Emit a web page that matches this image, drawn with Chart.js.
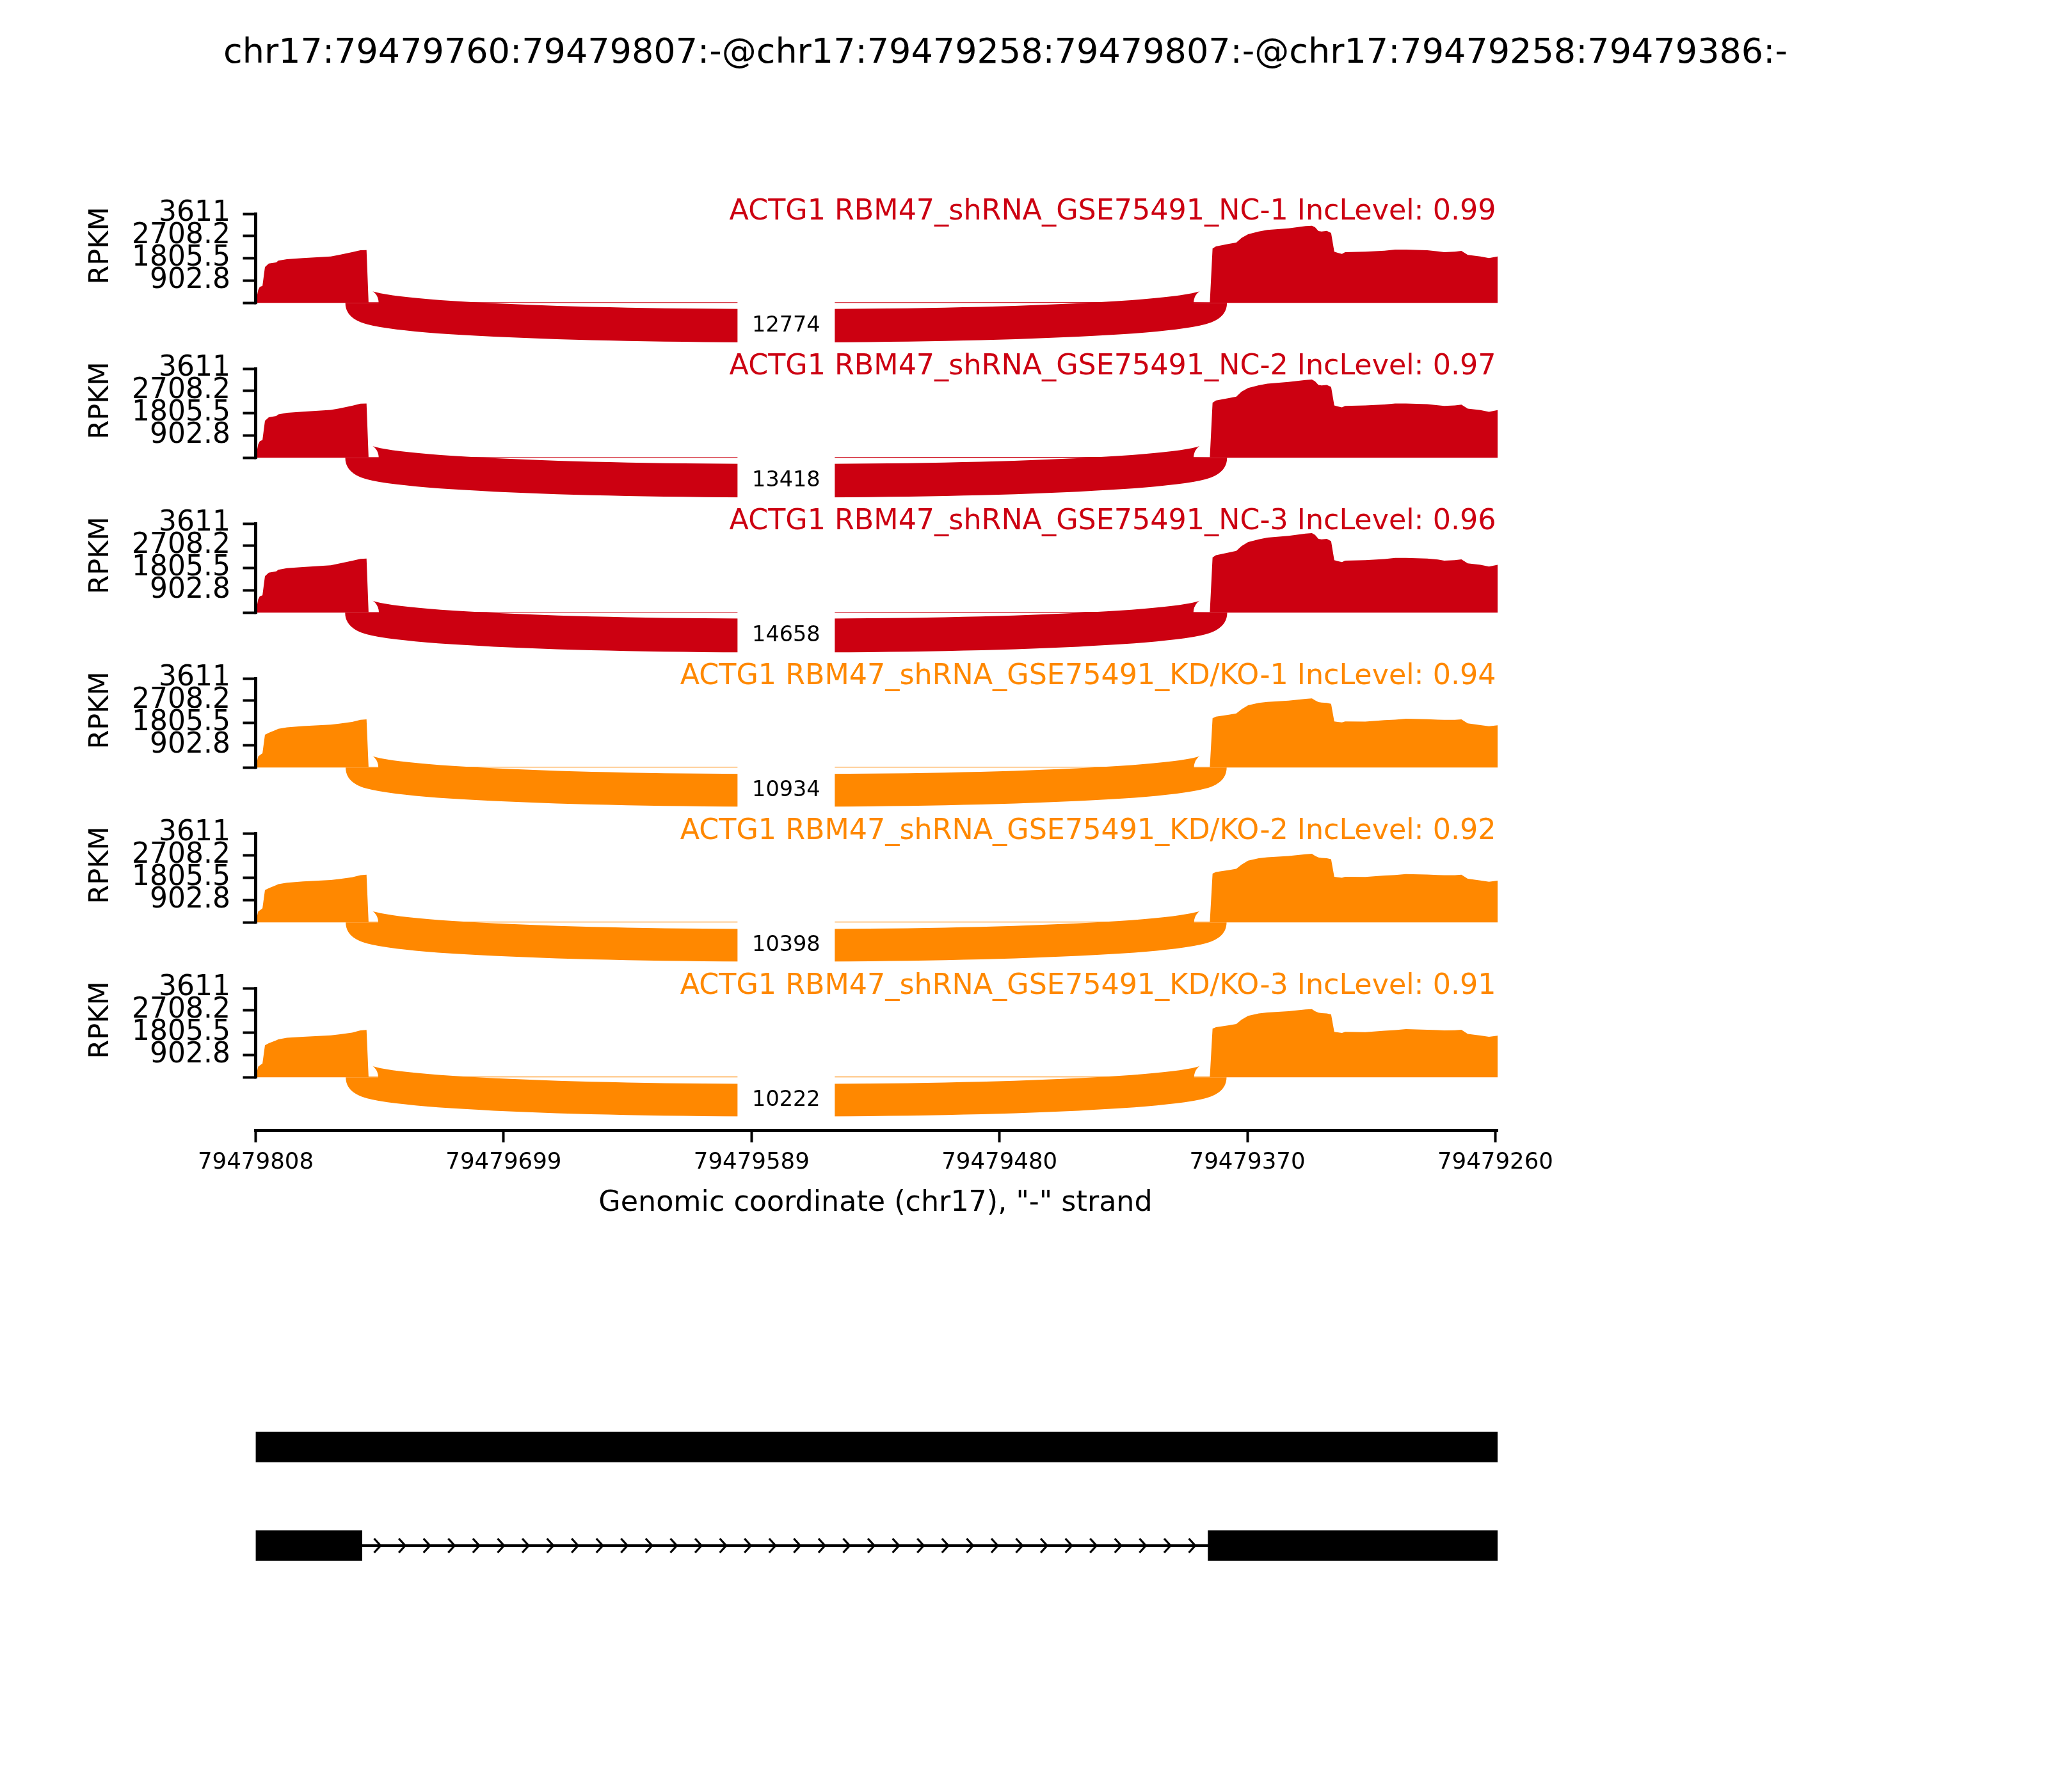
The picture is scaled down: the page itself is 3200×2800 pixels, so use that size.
<!DOCTYPE html>
<html>
<head>
<meta charset="utf-8">
<script src="https://cdn.jsdelivr.net/npm/chart.js@4.4.1/dist/chart.umd.min.js"></script>
<style>
  body { margin: 0; background: #fff; width: 3200px; height: 2800px; position: relative; overflow: hidden; }
  canvas { position: absolute; left: 0; }
</style>
</head>
<body>
<script>
const FONT = "'DejaVu Sans', sans-serif";

// ---- data ----
const plotTitle = 'chr17:79479760:79479807:-@chr17:79479258:79479807:-@chr17:79479258:79479386:-';
const sampleNames = ['RBM47_shRNA_GSE75491_NC-1', 'RBM47_shRNA_GSE75491_NC-2', 'RBM47_shRNA_GSE75491_NC-3',
                     'RBM47_shRNA_GSE75491_KD/KO-1', 'RBM47_shRNA_GSE75491_KD/KO-2', 'RBM47_shRNA_GSE75491_KD/KO-3'];
const incLevels = [0.99, 0.97, 0.96, 0.94, 0.92, 0.91];
const junctionCounts = [12774, 13418, 14658, 10934, 10398, 10222];
const junctionStart = 79479761;
const junctionEnd = 79479386;

const coveragePos = [
  79479808, 79479806.9, 79479806.2, 79479805.0, 79479803.9, 79479802.2, 79479798.9, 79479798.0,
  79479794.2, 79479787.1, 79479774.8, 79479771.1, 79479765.4, 79479761.7, 79479759.0, 79479758.1,
  79479700, 79479600, 79479500, 79479400, 79479386.2,
  79479385.0, 79479383.5, 79479377.8, 79479374.5, 79479372.2, 79479369.3, 79479364.6, 79479360.8,
  79479351.4, 79479343.9, 79479341.1, 79479339.7, 79479338.2, 79479336.8, 79479334.5, 79479332.6,
  79479331.2, 79479329.7, 79479327.8, 79479326.4, 79479317.5, 79479309.0, 79479304.3, 79479299.5,
  79479290.1, 79479285.4, 79479282.6, 79479277.9, 79479275.0, 79479272.2, 79479266.6, 79479262.8, 79479259.0
];
const covNC1 = [
  0, 518, 648, 690, 1451, 1597, 1641, 1711, 1770, 1814, 1882, 1944, 2055, 2133, 2141, 30,
  30, 28, 30, 32, 30,
  2203, 2289, 2392, 2444, 2634, 2781, 2893, 2954, 3023, 3110, 3126, 3066, 2911, 2893, 2919, 2833,
  2074, 2030, 1986, 2055, 2074, 2115, 2159, 2159, 2133, 2089, 2055, 2074, 2107, 1944, 1882, 1814, 1882
];
const covNC2 = [
  0, 540, 670, 720, 1500, 1640, 1690, 1760, 1820, 1870, 1940, 2000, 2110, 2190, 2200, 30,
  30, 30, 31, 32, 30,
  2230, 2320, 2420, 2480, 2680, 2830, 2940, 3000, 3070, 3150, 3170, 3100, 2950, 2930, 2950, 2870,
  2120, 2080, 2040, 2100, 2120, 2160, 2200, 2200, 2170, 2130, 2100, 2120, 2150, 1990, 1930, 1860, 1930
];
const covNC3 = [
  0, 530, 660, 700, 1480, 1620, 1670, 1740, 1800, 1850, 1920, 1990, 2100, 2180, 2190, 30,
  30, 30, 31, 32, 30,
  2240, 2330, 2440, 2500, 2700, 2860, 2970, 3040, 3110, 3200, 3220, 3150, 2990, 2970, 2990, 2900,
  2130, 2090, 2050, 2110, 2130, 2170, 2220, 2220, 2190, 2150, 2110, 2130, 2160, 2000, 1940, 1870, 1940
];
const covKD1 = [
  0, 450, 500, 580, 1330, 1410, 1530, 1570, 1630, 1680, 1740, 1780, 1850, 1930, 1950, 25,
  25, 24, 26, 27, 25,
  2000, 2060, 2140, 2190, 2360, 2520, 2620, 2660, 2710, 2780, 2800, 2720, 2650, 2630, 2620, 2580,
  1870, 1850, 1830, 1870, 1860, 1920, 1940, 1980, 1960, 1940, 1930, 1935, 1955, 1790, 1720, 1670, 1715
];
const covKD2 = [
  0, 440, 490, 570, 1310, 1390, 1510, 1550, 1610, 1660, 1720, 1760, 1830, 1910, 1930, 25,
  25, 24, 26, 27, 25,
  1980, 2040, 2120, 2170, 2340, 2500, 2600, 2640, 2690, 2760, 2780, 2700, 2630, 2610, 2600, 2560,
  1850, 1830, 1810, 1850, 1840, 1900, 1920, 1960, 1940, 1920, 1910, 1915, 1935, 1770, 1700, 1650, 1695
];
const covKD3 = [
  0, 430, 480, 560, 1300, 1382, 1500, 1537, 1600, 1641, 1700, 1740, 1810, 1900, 1918, 25,
  25, 24, 26, 27, 25,
  1970, 2030, 2110, 2161, 2333, 2490, 2590, 2625, 2680, 2748, 2765, 2680, 2618, 2600, 2590, 2550,
  1840, 1820, 1799, 1840, 1830, 1890, 1910, 1950, 1926, 1910, 1900, 1905, 1926, 1755, 1690, 1641, 1685
];
const coverages = [covNC1, covNC2, covNC3, covKD1, covKD2, covKD3];
const sampleColors = ['#CC0011', '#CC0011', '#CC0011', '#FF8800', '#FF8800', '#FF8800'];

const yTicks = [0, 902.75, 1805.5, 2708.25, 3611];
const yTickLabels = ['', '902.8', '1805.5', '2708.2', '3611'];
const xTicks = [79479808, 79479698.4, 79479588.8, 79479479.2, 79479369.6, 79479260];
const xTickLabels = ['79479808', '79479699', '79479589', '79479480', '79479370', '79479260'];
const xTitle = 'Genomic coordinate (chr17), "-" strand';

// gene structure: two isoforms, exons as [start, end]
const isoforms = ['inclusion', 'skipping'];
const exonFirst = [[79479808, 79479259], [79479808, 79479761]];
const exonLast = [null, [79479387, 79479259]];
const intronSpan = [null, [79479761, 79479387]];

// ---- layout ----
const X_MIN = 79479259, X_MAX = 79479808;
const Y_MIN = -2144, Y_MAX = 3611;
const AREA_LEFT = 399.5, AREA_RIGHT = 2340;
const PANEL_TOP = 334, PANEL_STEP = 242, AREA_H = 222;
const JUNCTION_DEPTH = 1234;

function addCanvas(top, height) {
  const c = document.createElement('canvas');
  c.width = 3200; c.height = height;
  c.style.top = top + 'px';
  c.style.width = '3200px'; c.style.height = height + 'px';
  document.body.appendChild(c);
  return c;
}

const sashimiPlugin = {
  id: 'sashimi',
  afterDatasetsDraw(chart, args, opts) {
    const { ctx, chartArea } = chart;
    const xs = chart.scales.x, ys = chart.scales.y;
    const y0 = ys.getPixelForValue(0), yTop = ys.getPixelForValue(Y_MAX);
    ctx.save();
    // left spine only over the data range
    ctx.strokeStyle = '#000';
    ctx.lineWidth = 5;
    ctx.beginPath();
    ctx.moveTo(chartArea.left, y0 + 2);
    ctx.lineTo(chartArea.left, yTop - 2);
    ctx.stroke();

    // junction arc below the track
    const x1 = xs.getPixelForValue(junctionStart), x2 = xs.getPixelForValue(junctionEnd);
    const yc = ys.getPixelForValue(-JUNCTION_DEPTH);
    ctx.strokeStyle = opts.color;
    ctx.lineWidth = 52 * Math.log(opts.count + 1) / Math.log(12775);
    ctx.lineCap = 'butt';
    ctx.beginPath();
    ctx.moveTo(x1, y0);
    ctx.bezierCurveTo(x1, yc, x2, yc, x2, y0);
    ctx.stroke();

    const mx = (x1 + x2) / 2, my = y0 + 0.75 * (yc - y0);
    ctx.fillStyle = '#fff';
    ctx.fillRect(mx - 76, my - 40, 152, 80);
    ctx.fillStyle = '#000';
    ctx.font = `33.5px ${FONT}`;
    ctx.textAlign = 'center';
    ctx.textBaseline = 'middle';
    ctx.fillText(String(opts.count), mx, my);

    // sample label
    ctx.fillStyle = opts.color;
    ctx.font = `44.4px ${FONT}`;
    ctx.textAlign = 'right';
    ctx.textBaseline = 'alphabetic';
    ctx.fillText(opts.label, chartArea.right - 2.5, yTop + 9.3);

    // y axis title
    ctx.save();
    ctx.translate(158, yTop + 50);
    ctx.rotate(-Math.PI / 2);
    ctx.fillStyle = '#000';
    ctx.font = `43px ${FONT}`;
    ctx.textAlign = 'center';
    ctx.textBaseline = 'middle';
    ctx.fillText('RPKM', 0, 0);
    ctx.restore();

    if (opts.title) {
      ctx.fillStyle = '#000';
      ctx.font = `54px ${FONT}`;
      ctx.textAlign = 'center';
      ctx.textBaseline = 'alphabetic';
      ctx.fillText(opts.title, 1571, 98.3 - opts.canvasTop);
    }
    if (opts.xTitle) {
      ctx.fillStyle = '#000';
      ctx.font = `44.4px ${FONT}`;
      ctx.textAlign = 'center';
      ctx.textBaseline = 'alphabetic';
      ctx.fillText(opts.xTitle, (chartArea.left + xs.getPixelForValue(79479260)) / 2, 1891.7 - opts.canvasTop);
    }
    ctx.restore();
  }
};

for (let i = 0; i < 6; i++) {
  const last = i === 5;
  const areaTop = PANEL_TOP + i * PANEL_STEP;
  const canvasTop = i === 0 ? 0 : areaTop - 70;
  const padTop = areaTop - canvasTop;
  const height = padTop + AREA_H + (last ? 150 : 0);
  const canvas = addCanvas(canvasTop, height);
  const label = 'ACTG1 ' + sampleNames[i] + ' IncLevel: ' + incLevels[i];

  new Chart(canvas, {
    type: 'line',
    data: {
      datasets: [{
        data: coveragePos.map((x, k) => ({ x: x, y: coverages[i][k] })),
        backgroundColor: sampleColors[i],
        borderWidth: 0,
        pointRadius: 0,
        tension: 0,
        fill: 'origin'
      }]
    },
    options: {
      responsive: false,
      animation: false,
      devicePixelRatio: 1,
      layout: { padding: { top: padTop, left: 0, right: 3200 - AREA_RIGHT, bottom: 0 } },
      plugins: {
        legend: { display: false },
        tooltip: { enabled: false },
        sashimi: {
          color: sampleColors[i],
          count: junctionCounts[i],
          label: label,
          title: i === 0 ? plotTitle : null,
          xTitle: last ? xTitle : null,
          canvasTop: canvasTop
        }
      },
      scales: {
        x: {
          type: 'linear',
          reverse: true,
          min: X_MIN,
          max: X_MAX,
          display: last,
          afterBuildTicks: s => { s.ticks = xTicks.map(v => ({ value: v })); },
          afterFit: s => { s.height = last ? 150 : 0; },
          border: { display: true, width: 5, color: '#000' },
          grid: { drawOnChartArea: false, drawTicks: true, tickLength: 19, tickWidth: 4, tickColor: '#000' },
          ticks: {
            autoSkip: false,
            maxRotation: 0,
            color: '#000',
            padding: 10,
            font: { family: FONT, size: 35.6 },
            callback: (v, k) => xTickLabels[k]
          }
        },
        y: {
          type: 'linear',
          min: Y_MIN,
          max: Y_MAX,
          afterBuildTicks: s => { s.ticks = yTicks.map(v => ({ value: v })); },
          afterFit: s => { s.width = AREA_LEFT; s.paddingTop = 0; s.paddingBottom = 0; },
          border: { display: false },
          grid: { drawOnChartArea: false, drawTicks: true, tickLength: 20, tickWidth: 4, tickColor: '#000' },
          ticks: {
            autoSkip: false,
            color: '#000',
            padding: 19.5,
            font: { family: FONT, size: 44 },
            callback: (v, k) => yTickLabels[k]
          }
        }
      }
    },
    plugins: [sashimiPlugin]
  });
}

// ---- gene structure ----
const chevronPlugin = {
  id: 'chevrons',
  afterDatasetsDraw(chart) {
    const { ctx } = chart;
    const xs = chart.scales.x, ys = chart.scales.y;
    intronSpan.forEach((span, k) => {
      if (!span) return;
      const y = ys.getPixelForValue(k);
      const xa = xs.getPixelForValue(span[0]), xb = xs.getPixelForValue(span[1]);
      const n = 34, start = xa + 24, end = xb - 25, step = (end - start) / (n - 1);
      ctx.save();
      ctx.strokeStyle = '#000';
      ctx.lineWidth = 3.3;
      for (let j = 0; j < n; j++) {
        const cx = start + j * step;
        ctx.beginPath();
        ctx.moveTo(cx - 5, y - 11);
        ctx.lineTo(cx + 5, y);
        ctx.lineTo(cx - 5, y + 11);
        ctx.stroke();
      }
      ctx.restore();
    });
  }
};

const geneTop = 2150;
new Chart(addCanvas(geneTop, 360), {
  type: 'bar',
  data: {
    labels: isoforms,
    datasets: [
      { data: exonFirst, backgroundColor: '#000', barThickness: 47, grouped: false },
      { data: exonLast, backgroundColor: '#000', barThickness: 47, grouped: false },
      { data: intronSpan, backgroundColor: '#000', barThickness: 3.3, grouped: false }
    ]
  },
  options: {
    indexAxis: 'y',
    responsive: false,
    animation: false,
    devicePixelRatio: 1,
    layout: { padding: { top: 33.7, bottom: 17.9, left: AREA_LEFT, right: 3200 - AREA_RIGHT } },
    plugins: { legend: { display: false }, tooltip: { enabled: false } },
    scales: {
      x: { type: 'linear', reverse: true, min: X_MIN, max: X_MAX, display: false },
      y: { type: 'category', offset: true, display: false }
    }
  },
  plugins: [chevronPlugin]
});
</script>
</body>
</html>
